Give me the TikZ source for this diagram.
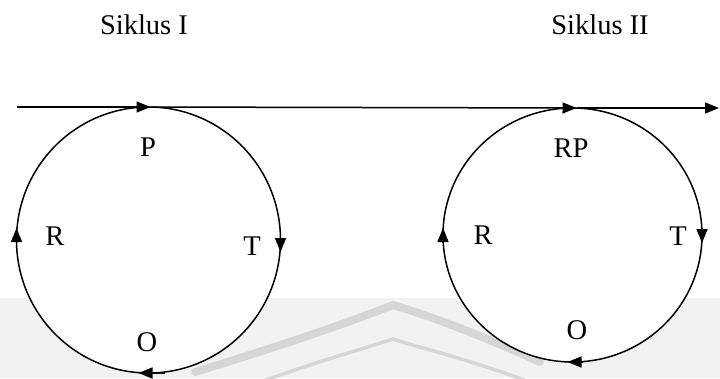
\documentclass[tikz,border=0pt]{standalone}
\usepackage{fontspec}
\setmainfont{Liberation Serif}
\usetikzlibrary{arrows.meta,shapes.geometric,calc}

\definecolor{paneGrey}{HTML}{F2F2F2}
\definecolor{crestGrey}{HTML}{D6D6D6}

\begin{document}
\begin{tikzpicture}[x=1pt,y=-1pt,line width=1.5pt,
  tip/.style={-{Triangle[length=14pt,width=11pt]}},
  cycle ring/.style={ellipse,draw,fill=white,inner sep=0pt,outer sep=0pt},
  lbl/.style={font=\fontsize{28.5}{32}\selectfont,inner sep=0pt},
  crest/.style={draw=crestGrey,line cap=round}]

  \useasboundingbox (0,0) rectangle (720,378);
  \fill[white] (0,0) rectangle (720,378);
  \fill[paneGrey] (0,298) rectangle (720,378);

  % faint crest outline in the lower band
  \draw[crest,line width=8pt] (195,372) .. controls (300,340) and (360,318) .. (393,305)
        .. controls (420,313) and (470,330) .. (540,362);
  \draw[crest,line width=3.5pt] (240,390) .. controls (300,366) and (360,350) .. (393,339)
        .. controls (420,348) and (480,362) .. (545,388);

  % the two cycles
  \node[cycle ring,minimum width=264pt,minimum height=266pt] (c1) at (148.5,240) {};
  \node[cycle ring,minimum width=259pt,minimum height=254pt] (c2) at (572.5,235) {};

  % flow from one cycle to the next
  \coordinate (start) at (17,107);
  \coordinate (finish) at (719,108);
  \coordinate (in1) at ([xshift=2pt]c1.north);
  \coordinate (in2) at ([xshift=4pt]c2.north);
  \draw[tip] (start) -- (in1);
  \draw[tip] (in1) -- (in2);
  \draw[tip] (in2) -- (finish);

  % direction marks on each cycle
  \draw[tip] ([yshift=4pt]c1.east) -- ([yshift=-12pt]c1.east);
  \draw[tip] ([xshift=16pt]c1.south) -- ([xshift=-10pt]c1.south);
  \draw[tip] ([yshift=-4pt]c1.west) -- ([yshift=12pt]c1.west);
  \draw[tip] ([yshift=7pt]c2.east) -- ([yshift=-8pt]c2.east);
  \draw[tip] ([xshift=10pt]c2.south) -- ([xshift=-5pt]c2.south);
  \draw[tip] ([yshift=-8pt]c2.west) -- ([yshift=7pt]c2.west);

  % titles
  \node[lbl,anchor=base] (s1) at (144,34) {Siklus I};
  \node[lbl,anchor=base] (s2) at (600,34) {Siklus II};

  % stage labels
  \node[lbl] (p1) at (148,147) {P};
  \node[lbl] (r1) at (55,236) {R};
  \node[lbl] (t1) at (252,246) {T};
  \node[lbl] (o1) at (147,342) {O};
  \node[lbl] (p2) at (571,148) {RP};
  \node[lbl] (r2) at (483,235) {R};
  \node[lbl] (t2) at (678,236) {T};
  \node[lbl] (o2) at (577,330) {O};
\end{tikzpicture}
\end{document}
